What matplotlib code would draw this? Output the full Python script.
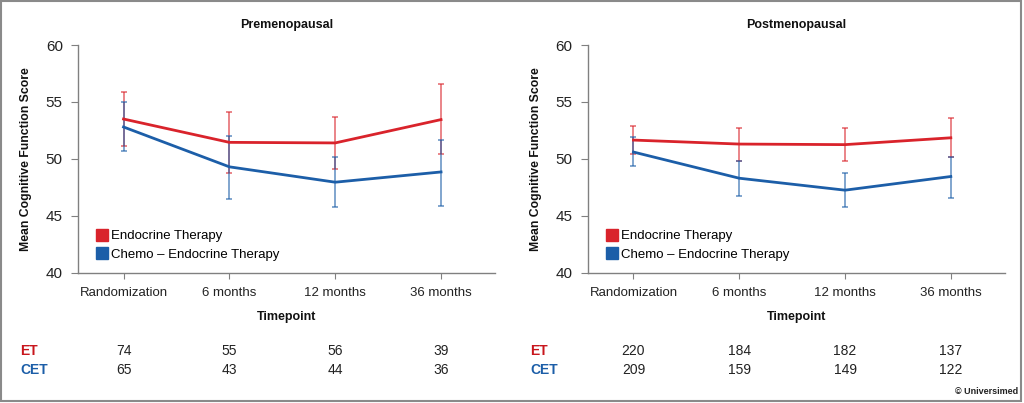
import matplotlib
matplotlib.use("Agg")
import matplotlib.pyplot as plt
import matplotlib.transforms as mtransforms
from matplotlib.patches import Rectangle
from matplotlib.lines import Line2D

plt.rcParams["font.family"] = ["Liberation Sans", "DejaVu Sans"]

timepoints = ["Randomization", "6 months", "12 months", "36 months"]

# Premenopausal
pre_et = [53.5, 51.45, 51.4, 53.45]
pre_et_lo = [51.1, 48.8, 49.1, 50.4]
pre_et_hi = [55.9, 54.15, 53.65, 56.6]
pre_cet = [52.8, 49.3, 47.95, 48.85]
pre_cet_lo = [50.7, 46.5, 45.8, 45.9]
pre_cet_hi = [55.0, 52.05, 50.15, 51.7]
pre_n_et = [74, 55, 56, 39]
pre_n_cet = [65, 43, 44, 36]

# Postmenopausal
post_et = [51.65, 51.3, 51.25, 51.85]
post_et_lo = [50.4, 49.85, 49.8, 50.15]
post_et_hi = [52.9, 52.75, 52.7, 53.6]
post_cet = [50.6, 48.3, 47.25, 48.45]
post_cet_lo = [49.4, 46.7, 45.8, 46.6]
post_cet_hi = [51.9, 49.85, 48.8, 50.2]
post_n_et = [220, 184, 182, 137]
post_n_cet = [209, 159, 149, 122]

RED = "#d9232b"
BLUE = "#1c5ea8"
AXC = "#808080"

fig = plt.figure(figsize=(10.24, 4.03), dpi=100)
fig.patches.append(Rectangle((0.001, 0.004), 0.996, 0.994, transform=fig.transFigure,
                             fill=False, edgecolor="#8a8a8a", linewidth=1.5))

panels = [
    ("Premenopausal", [0.0762, 0.3233, 0.4072, 0.565],
     pre_et, pre_et_lo, pre_et_hi, pre_cet, pre_cet_lo, pre_cet_hi, pre_n_et, pre_n_cet, 20),
    ("Postmenopausal", [0.5742, 0.3233, 0.4070, 0.565],
     post_et, post_et_lo, post_et_hi, post_cet, post_cet_lo, post_cet_hi, post_n_et, post_n_cet, 530),
]

for (title, pos, et, et_lo, et_hi, cet, cet_lo, cet_hi, n_et, n_cet, lab_px) in panels:
    ax = fig.add_axes(pos)
    x = list(range(len(timepoints)))

    for vals, lo, hi, col in ((et, et_lo, et_hi, RED), (cet, cet_lo, cet_hi, BLUE)):
        err = [[v - l for v, l in zip(vals, lo)], [h - v for v, h in zip(vals, hi)]]
        ax.errorbar(x, vals, yerr=err, fmt="none", ecolor=col, elinewidth=1.3,
                    capsize=2.5, capthick=1.3, alpha=0.6, zorder=2)
        ax.plot(x, vals, color=col, linewidth=2, zorder=3)

    ax.set_xlim(-0.43, 3.51)
    ax.set_ylim(40, 60)
    ax.set_yticks([40, 45, 50, 55, 60])
    ax.set_xticks(x)
    ax.set_xticklabels(timepoints)
    for s in ("top", "right"):
        ax.spines[s].set_visible(False)
    for s in ("left", "bottom"):
        ax.spines[s].set_color(AXC)
        ax.spines[s].set_linewidth(1.0)
    ax.tick_params(axis="y", colors=AXC, labelcolor="#222222", labelsize=11, length=5, pad=6)
    ax.tick_params(axis="x", colors=AXC, labelcolor="#222222", labelsize=9.5, length=4, pad=6)
    ax.set_title(title, fontsize=9, fontweight="bold", color="#111111", pad=12)
    ax.set_ylabel("Mean Cognitive Function Score", fontsize=8.8, fontweight="bold",
                  color="#111111", labelpad=10)
    ax.set_xlabel("Timepoint", fontsize=9, fontweight="bold", color="#111111", labelpad=9)

    handles = [Line2D([], [], marker="s", linestyle="none", markersize=8, color=RED),
               Line2D([], [], marker="s", linestyle="none", markersize=8, color=BLUE)]
    ax.legend(handles, ["Endocrine Therapy", "Chemo \u2013 Endocrine Therapy"],
              loc="lower left", bbox_to_anchor=(0.03, 0.03), frameon=False,
              fontsize=9.5, handletextpad=0.15, handlelength=1.0,
              labelspacing=0.45, borderaxespad=0)

    tr = mtransforms.blended_transform_factory(ax.transData, fig.transFigure)
    for i in x:
        fig.text(i, 1 - 351 / 403, str(n_et[i]), transform=tr, ha="center", va="center",
                 fontsize=10, color="#222222")
        fig.text(i, 1 - 370 / 403, str(n_cet[i]), transform=tr, ha="center", va="center",
                 fontsize=10, color="#222222")
    fig.text(lab_px / 1024, 1 - 351 / 403, "ET", ha="left", va="center", fontsize=10,
             fontweight="bold", color="#c8161d")
    fig.text(lab_px / 1024, 1 - 370 / 403, "CET", ha="left", va="center", fontsize=10,
             fontweight="bold", color=BLUE)

fig.text(0.994, 1 - 392 / 403, "\u00a9 Universimed", ha="right", va="center",
         fontsize=6.5, fontweight="bold", color="#222222")

fig.savefig("out.png", dpi=100)
